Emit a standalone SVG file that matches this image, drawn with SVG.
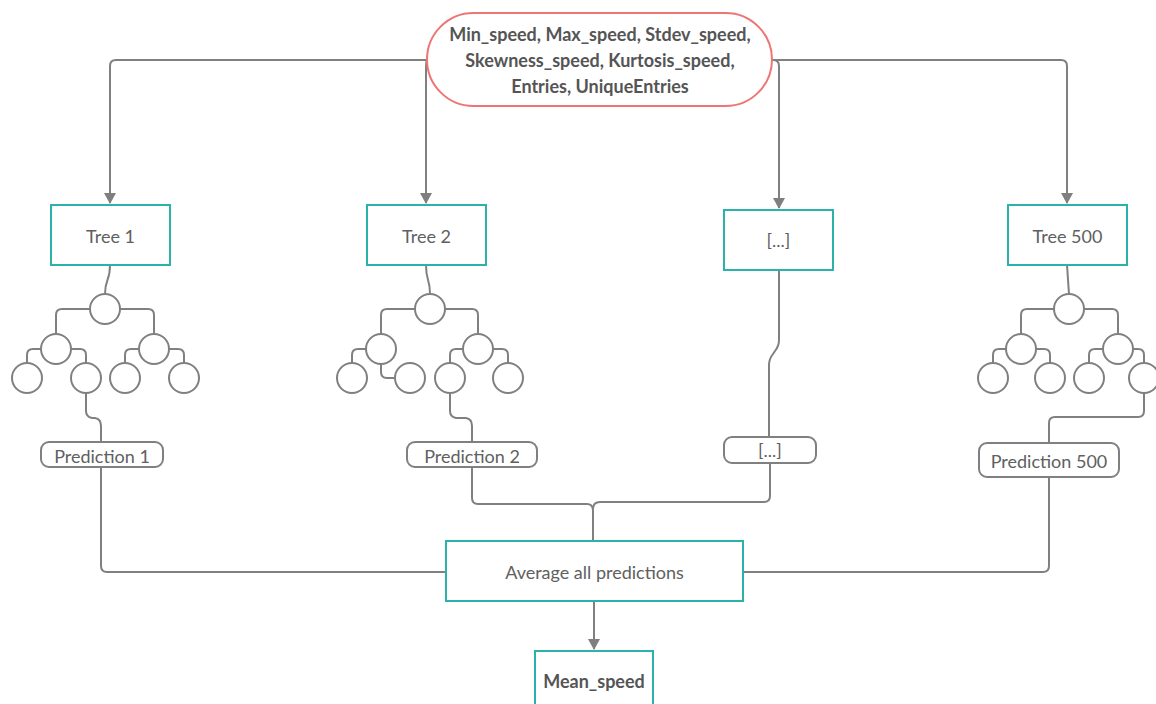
<svg xmlns="http://www.w3.org/2000/svg" width="1156" height="704" viewBox="0 0 1156 704">
<defs>
<marker id="arr" markerWidth="12" markerHeight="12" viewBox="0 0 12 12" refX="10" refY="6" orient="auto" markerUnits="userSpaceOnUse">
<path d="M0,0 L11,6 L0,12 Z" fill="#7f7f7f"/>
</marker>
<style>
.ln{fill:none;stroke:#808080;stroke-width:2;stroke-linejoin:round}
.box{fill:#fff;stroke:#2bb3ab;stroke-width:2}
.pred{fill:#fff;stroke:#808080;stroke-width:2}
.c{fill:#fff;stroke:#808080;stroke-width:2}
.t{font-family:Lato,"Liberation Sans",sans-serif;font-size:18px;fill:#606060;text-anchor:middle;dominant-baseline:central}
.b{font-weight:bold;fill:#555}
</style>
</defs>
<rect width="1156" height="704" fill="#fff"/>
<g id="connectors">
<path class="ln" d="M427 60 H116 Q110 60 110 66 V203" marker-end="url(#arr)"/>
<path class="ln" d="M427 60 Q426 60 426 68 V203" marker-end="url(#arr)"/>
<path class="ln" d="M772 60 H773 Q779 60 779 66 V208" marker-end="url(#arr)"/>
<path class="ln" d="M772 60 H1061 Q1067 60 1067 66 V203" marker-end="url(#arr)"/>
<!-- tree 1 -->
<path class="ln" d="M110 265 C110 282 105 278 105 294"/>
<path class="ln" d="M90 309 H62 Q56 309 56 315 V334 M120 309 H148 Q154 309 154 315 V334"/>
<path class="ln" d="M41 349 H33 Q27 349 27 355 V363 M71 349 H80 Q86 349 86 355 V363"/>
<path class="ln" d="M139 349 H131 Q125 349 125 355 V363 M169 349 H178 Q184 349 184 355 V363"/>
<path class="ln" d="M86 393 V411 Q86 417 92 418 H95 Q101 419 101 426 V442"/>
<path class="ln" d="M101 467 V566 Q101 572 107 572 H446"/>
<!-- tree 2 -->
<path class="ln" d="M426 265 C426 282 430 278 430 294"/>
<path class="ln" d="M415 309 H387 Q381 309 381 315 V334 M445 309 H472 Q478 309 478 315 V334"/>
<path class="ln" d="M366 349 H358 Q352 349 352 355 V363 M381 364 V372 Q381 378 387 378 H395"/>
<path class="ln" d="M463 349 H456 Q450 349 450 355 V363 M493 349 H502 Q508 349 508 355 V363"/>
<path class="ln" d="M450 393 V411 Q450 417 456 418 H466 Q472 419 472 426 V442"/>
<path class="ln" d="M472 467 V498 Q472 504 478 504 H587 Q593 504 593 511 V541"/>
<!-- [...] -->
<path class="ln" d="M779 270 V340 Q779 346 775 351 L773 354 Q769 359 769 365 V437"/>
<path class="ln" d="M770 463 V496 Q770 502 764 502 H600 Q593 502 593 509"/>
<!-- tree 500 -->
<path class="ln" d="M1067 265 L1069 294"/>
<path class="ln" d="M1054 309 H1027 Q1021 309 1021 315 V334 M1084 309 H1112 Q1118 309 1118 315 V334"/>
<path class="ln" d="M1006 349 H999 Q993 349 993 355 V363 M1036 349 H1044 Q1050 349 1050 355 V363"/>
<path class="ln" d="M1103 349 H1095 Q1089 349 1089 355 V363 M1133 349 H1138 Q1144 349 1144 355 V363"/>
<path class="ln" d="M1144 393 V411 Q1144 417 1138 417 H1055 Q1049 417 1049 423 V443"/>
<path class="ln" d="M1049 477 V566 Q1049 572 1043 572 H743"/>
<!-- output -->
<path class="ln" d="M594 601 V649" marker-end="url(#arr)"/>
</g>
<g id="features">
<rect x="427" y="13" width="345" height="93" rx="46.5" fill="#fff" stroke="#ef7474" stroke-width="2"/>
<text class="t b" x="600" y="34">Min_speed, Max_speed, Stdev_speed,</text>
<text class="t b" x="600" y="60">Skewness_speed, Kurtosis_speed,</text>
<text class="t b" x="600" y="86">Entries, UniqueEntries</text>
</g>
<g id="tree1">
<rect class="box" x="51" y="205" width="119" height="60"/>
<text class="t" x="110.5" y="236">Tree 1</text>
<circle class="c" cx="105" cy="309" r="15"/>
<circle class="c" cx="56" cy="349" r="15"/>
<circle class="c" cx="154" cy="349" r="15"/>
<circle class="c" cx="27" cy="378" r="15"/>
<circle class="c" cx="86" cy="378" r="15"/>
<circle class="c" cx="125" cy="378" r="15"/>
<circle class="c" cx="184" cy="378" r="15"/>
</g>
<g id="tree2">
<rect class="box" x="367" y="205" width="119" height="60"/>
<text class="t" x="426.5" y="236">Tree 2</text>
<circle class="c" cx="430" cy="309" r="15"/>
<circle class="c" cx="381" cy="349" r="15"/>
<circle class="c" cx="478" cy="349" r="15"/>
<circle class="c" cx="352" cy="378" r="15"/>
<circle class="c" cx="410" cy="378" r="15"/>
<circle class="c" cx="450" cy="378" r="15"/>
<circle class="c" cx="508" cy="378" r="15"/>
</g>
<g id="treeN">
<rect class="box" x="724" y="210" width="109" height="60"/>
<text class="t" x="778.5" y="240">[...]</text>
</g>
<g id="tree500">
<rect class="box" x="1008" y="205" width="119" height="60"/>
<text class="t" x="1067.5" y="236">Tree 500</text>
<circle class="c" cx="1069" cy="309" r="15"/>
<circle class="c" cx="1021" cy="349" r="15"/>
<circle class="c" cx="1118" cy="349" r="15"/>
<circle class="c" cx="993" cy="378" r="15"/>
<circle class="c" cx="1050" cy="378" r="15"/>
<circle class="c" cx="1089" cy="378" r="15"/>
<circle class="c" cx="1144" cy="378" r="15"/>
</g>
<g id="pred1">
<rect class="pred" x="41" y="442" width="122" height="25" rx="8"/>
<text class="t" x="102" y="455.5">Prediction 1</text>
</g>
<g id="pred2">
<rect class="pred" x="407" y="442" width="130" height="25" rx="8"/>
<text class="t" x="472" y="455.5">Prediction 2</text>
</g>
<g id="predN">
<rect class="pred" x="724" y="437" width="92" height="26" rx="8"/>
<text class="t" x="770" y="450">[...]</text>
</g>
<g id="pred500">
<rect class="pred" x="979" y="443" width="140" height="34" rx="8"/>
<text class="t" x="1049" y="461">Prediction 500</text>
</g>
<g id="average">
<rect class="box" x="446" y="541" width="297" height="60"/>
<text class="t" x="594.5" y="572">Average all predictions</text>
</g>
<g id="mean">
<rect class="box" x="535" y="651" width="118" height="60"/>
<text class="t b" x="594" y="681">Mean_speed</text>
</g>
</svg>
